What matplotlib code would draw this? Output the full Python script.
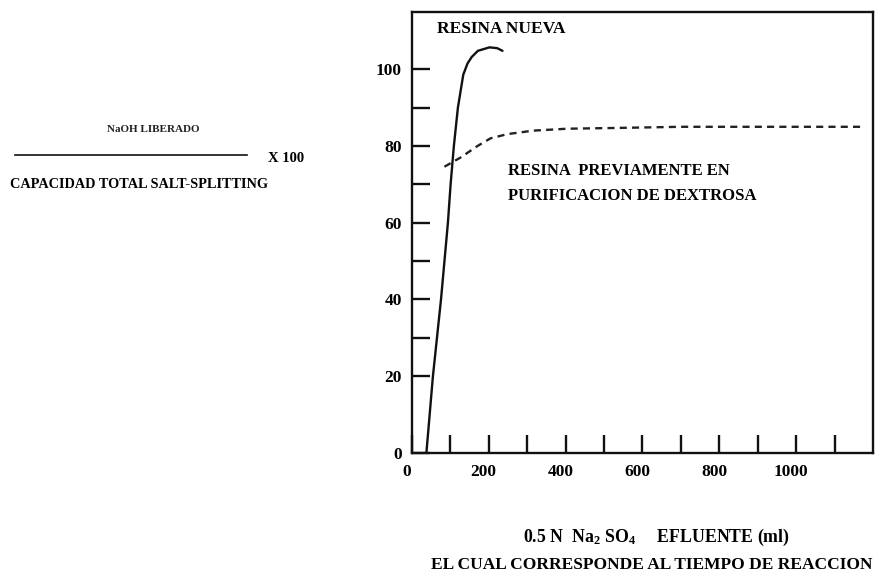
import matplotlib
matplotlib.use("Agg")
import matplotlib.pyplot as plt
import matplotlib.transforms as mtransforms
from matplotlib.lines import Line2D

plt.rcParams['font.family'] = ['Liberation Serif', 'DejaVu Serif']
plt.rcParams['font.weight'] = 'bold'
plt.rcParams['mathtext.fontset'] = 'custom'
plt.rcParams['mathtext.rm'] = 'Liberation Serif:bold'
plt.rcParams['mathtext.default'] = 'rm'

# resina nueva (solid)
nueva_x = [38, 55, 65.5, 76, 85, 94, 101, 109.5, 120, 134, 145, 156, 172, 202, 222, 236]
nueva_y = [0, 20, 30, 40, 50, 60, 70, 80, 90, 98.6, 101.5, 103.2, 104.8, 105.7, 105.5, 104.8]

# resina previamente en purificacion de dextrosa (dashed)
previa_x = [85, 127, 171, 205, 249, 316, 404, 533, 700, 900, 1170]
previa_y = [74.6, 77, 80, 82, 83.1, 84, 84.5, 84.7, 85, 85, 85]

xticks_lab = [0, 200, 400, 600, 800, 1000]
xticks_min = [100, 300, 500, 700, 900, 1100]
yticks_lab = [0, 20, 40, 60, 80, 100]
yticks_min = [30, 50, 70, 90]

fig = plt.figure(figsize=(8.89, 5.78), dpi=100)
ax = fig.add_axes([0.4632, 0.2163, 0.5188, 0.7635])

ax.plot(nueva_x, nueva_y, color='#111111', lw=1.7, solid_capstyle='round')
ax.plot(previa_x, previa_y, color='#222222', lw=1.7, linestyle=(0, (3, 2.2)))

ax.set_xlim(0, 1200)
ax.set_ylim(0, 115)

ax.set_xticks(xticks_lab)
ax.set_xticks(xticks_min, minor=True)
ax.set_yticks(yticks_lab)
ax.set_yticks(yticks_min, minor=True)
ax.xaxis.remove_overlapping_locs = False
ax.yaxis.remove_overlapping_locs = False

for s in ax.spines.values():
    s.set_linewidth(1.7)
    s.set_color('#111111')

ax.tick_params(axis='both', which='both', direction='in', length=13, width=1.7,
               color='#111111')
ax.tick_params(axis='x', which='major', pad=8, labelsize=12.5)
ax.tick_params(axis='y', which='major', pad=7, labelsize=12.5)
ax.tick_params(top=False, right=False)

# the printed x labels sit a little left of their tick marks
shift = mtransforms.ScaledTranslation(-5 / 100, 0, fig.dpi_scale_trans)
for lab in ax.get_xticklabels():
    lab.set_transform(lab.get_transform() + shift)
    lab.set_fontweight('bold')
for lab in ax.get_yticklabels():
    lab.set_fontweight('bold')

ax.text(65, 110.5, 'RESINA NUEVA', fontsize=12.5, fontweight='bold', va='center', ha='left')
ax.text(250, 73.5, 'RESINA  PREVIAMENTE EN', fontsize=12, fontweight='bold',
        va='center', ha='left')
ax.text(250, 67, 'PURIFICACION DE DEXTROSA', fontsize=12, fontweight='bold',
        va='center', ha='left')

# y-axis label drawn as a fraction
W, H = 889, 578
fig.text(153 / W, 1 - 130 / H, 'NaOH LIBERADO', fontsize=8, fontweight='bold',
         ha='center', va='center', color='#222222')
fig.add_artist(Line2D([15 / W, 247 / W], [1 - 155 / H, 1 - 155 / H],
                      transform=fig.transFigure, color='#111111', lw=1.2))
fig.text(268 / W, 1 - 159 / H, 'X 100', fontsize=10.5, fontweight='bold',
         ha='left', va='center')
fig.text(10 / W, 1 - 184 / H, 'CAPACIDAD TOTAL SALT-SPLITTING', fontsize=10.3,
         fontweight='bold', ha='left', va='center')

# x-axis label, two lines
fig.text(656 / W, 1 - 537 / H, r'0.5 N  Na$_2$ SO$_4$     EFLUENTE (ml)', fontsize=12.8,
         fontweight='bold', ha='center', va='center')
fig.text(652 / W, 1 - 565 / H, 'EL CUAL CORRESPONDE AL TIEMPO DE REACCION', fontsize=12.5,
         fontweight='bold', ha='center', va='center')

fig.savefig('out.png', dpi=100)
